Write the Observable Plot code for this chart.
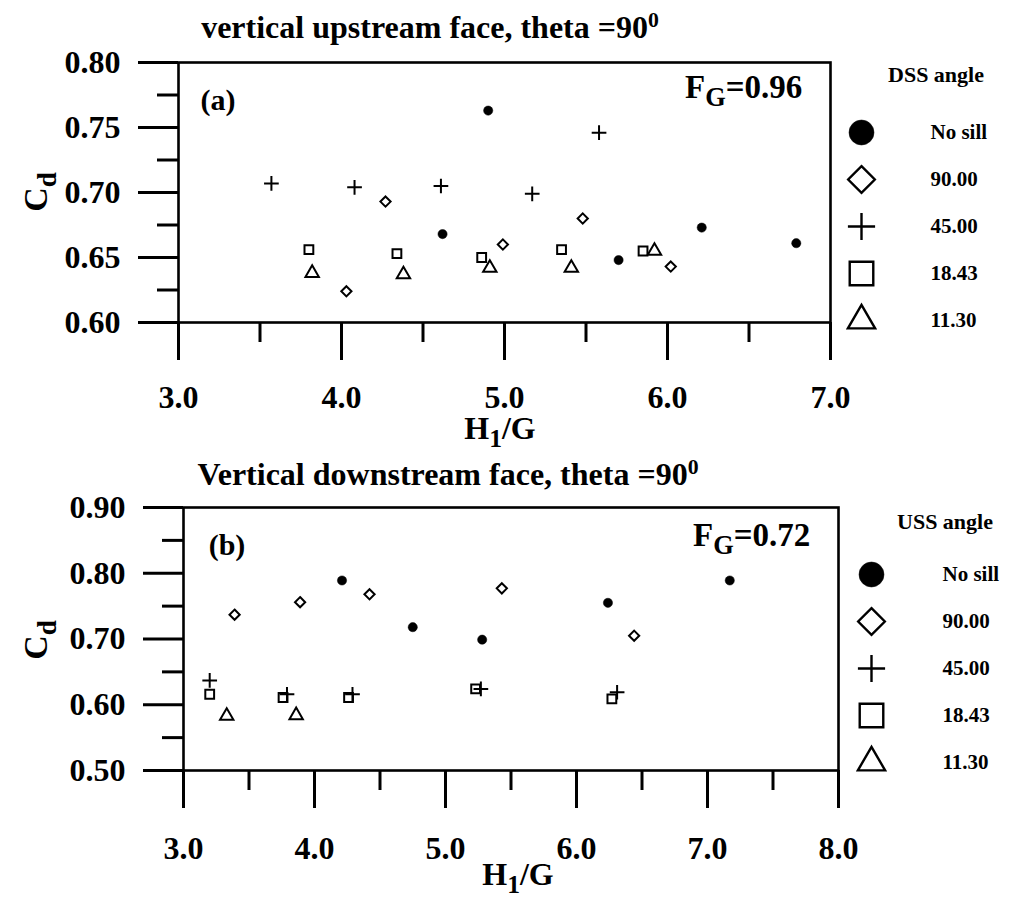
<!DOCTYPE html>
<html><head><meta charset="utf-8">
<script src="https://cdn.jsdelivr.net/npm/d3@7"></script>
<script src="https://cdn.jsdelivr.net/npm/@observablehq/plot@0.6"></script>
<style>
body{margin:0;background:#fff;}
#wrap{position:relative;width:1009px;height:904px;font-family:"Liberation Serif","Times New Roman",serif;font-weight:bold;color:#000;overflow:hidden;background:#fff;}
.lab{position:absolute;white-space:nowrap;line-height:1;transform:translate(-50%,-50%);}
.labl{position:absolute;white-space:nowrap;line-height:1;transform:translate(0,-50%);}
.sb{font-size:0.8em;position:relative;top:0.32em;line-height:0;}
.sp{font-size:0.68em;position:relative;top:-0.5em;line-height:0;}
</style></head><body><div id="wrap"></div>
<script>
// ---- categories / legend ----
const sillLabels = ["No sill", "90.00", "45.00", "18.43", "11.30"];
const sillSymbols = ["circle", "diamond2", "plus", "square2", "triangle2"];

// ---- panel (a): DSS angle, F_G = 0.96 ----
const aNoSillX = [4.62, 4.90, 5.70, 6.21, 6.79];
const aNoSillY = [0.668, 0.763, 0.648, 0.673, 0.661];
const a90X = [4.03, 4.27, 4.99, 5.48, 6.02];
const a90Y = [0.624, 0.693, 0.660, 0.680, 0.643];
const a45X = [3.57, 4.08, 4.61, 5.17, 5.58];
const a45Y = [0.707, 0.704, 0.705, 0.699, 0.746];
const a18X = [3.80, 4.34, 4.86, 5.35, 5.85];
const a18Y = [0.656, 0.653, 0.650, 0.656, 0.655];
const a11X = [3.82, 4.38, 4.91, 5.41, 5.92];
const a11Y = [0.638, 0.637, 0.642, 0.642, 0.655];

// ---- panel (b): USS angle, F_G = 0.72 ----
const bNoSillX = [4.21, 4.75, 5.28, 6.24, 7.17];
const bNoSillY = [0.789, 0.718, 0.699, 0.755, 0.789];
const b90X = [3.39, 3.89, 4.42, 5.43, 6.44];
const b90Y = [0.737, 0.756, 0.768, 0.777, 0.705];
const b45X = [3.20, 3.79, 4.29, 5.27, 6.31];
const b45Y = [0.637, 0.616, 0.616, 0.624, 0.619];
const b18X = [3.20, 3.76, 4.26, 5.23, 6.27];
const b18Y = [0.616, 0.611, 0.611, 0.624, 0.609];
const b11X = [3.33, 3.86];
const b11Y = [0.583, 0.584];

// ---- tick values ----
const aXMajor = [3, 4, 5, 6, 7];
const aXMinor = [3.5, 4.5, 5.5, 6.5];
const aYMajor = [0.60, 0.65, 0.70, 0.75, 0.80];
const aYMinor = [0.625, 0.675, 0.725, 0.775];
const bXMajor = [3, 4, 5, 6, 7, 8];
const bXMinor = [3.5, 4.5, 5.5, 6.5, 7.5];
const bYMajor = [0.50, 0.60, 0.70, 0.80, 0.90];
const bYMinor = [0.55, 0.65, 0.75, 0.85];

// marker sizes (style)
const dotR = {circle: 4.6, diamond2: 4.6, plus: 4.8, square2: 5.6, triangle2: 6.4};
const legR = {circle: 12.5, diamond2: 12, plus: 8.8, square2: 15, triangle2: 13};

const wrap = document.getElementById("wrap");

function toRows(xs, ys) { return xs.map((x, i) => ({x, y: ys[i]})); }

function panel(o) {
  const marks = [Plot.frame({strokeWidth: 2.6})];
  marks.push(Plot.axisY(o.yMajor, {tickSize: 40, tickPadding: 18, tickFormat: d3.format(".2f"), fontSize: 32, fontWeight: "bold", strokeWidth: 3, label: null}));
  marks.push(Plot.axisY(o.yMinor, {tickSize: 21, tickFormat: () => "", strokeWidth: 3, label: null}));
  marks.push(Plot.axisX(o.xMajor, {tickSize: 38, tickPadding: o.xPad, tickFormat: d3.format(".1f"), fontSize: 32, fontWeight: "bold", strokeWidth: 3, label: null}));
  marks.push(Plot.axisX(o.xMinor, {tickSize: 20, tickFormat: () => "", strokeWidth: 3, label: null}));
  o.series.forEach((s, i) => {
    const sym = sillSymbols[i];
    const filled = sym === "circle";
    marks.push(Plot.dot(toRows(s[0], s[1]), {
      x: "x", y: "y", symbol: sym, r: dotR[sym],
      fill: filled ? "black" : "none", stroke: "black", strokeWidth: filled ? 0.5 : 2
    }));
  });
  const svg = Plot.plot({
    width: o.width, height: o.height,
    marginLeft: o.ml, marginRight: o.mr, marginTop: o.mt, marginBottom: o.mb,
    x: {domain: o.xDomain, label: null},
    y: {domain: o.yDomain, label: null},
    style: {fontFamily: "Liberation Serif, Times New Roman, serif", fontWeight: "bold", color: "black", background: "transparent", overflow: "visible"},
    marks
  });
  svg.style.position = "absolute";
  svg.style.left = "0px";
  svg.style.top = o.top + "px";
  wrap.appendChild(svg);
}

function legend(o) {
  const rows = sillLabels.map((label, i) => ({label, symbol: sillSymbols[i]}));
  const marks = rows.map(row => Plot.dot([row], {
    y: "label", frameAnchor: "left", dx: o.symDx, symbol: row.symbol, r: legR[row.symbol],
    fill: row.symbol === "circle" ? "black" : "none", stroke: "black", strokeWidth: row.symbol === "circle" ? 0.5 : 2.4
  }));
  marks.push(Plot.text(rows, {y: "label", text: "label", frameAnchor: "left", dx: o.textDx, textAnchor: "start", fontSize: 21, fontWeight: "bold"}));
  const svg = Plot.plot({
    width: 169, height: 360, margin: 0,
    y: {type: "point", padding: 0, domain: sillLabels, range: o.range, axis: null},
    style: {fontFamily: "Liberation Serif, Times New Roman, serif", fontWeight: "bold", color: "black", background: "transparent", overflow: "visible"},
    marks
  });
  svg.style.position = "absolute";
  svg.style.left = o.left + "px";
  svg.style.top = o.top + "px";
  wrap.appendChild(svg);
}

panel({
  top: 0, width: 860, height: 440, ml: 178, mr: 30, mt: 62, mb: 118, xPad: 25,
  xDomain: [3, 7], yDomain: [0.6, 0.8],
  xMajor: aXMajor, xMinor: aXMinor, yMajor: aYMajor, yMinor: aYMinor,
  series: [[aNoSillX, aNoSillY], [a90X, a90Y], [a45X, a45Y], [a18X, a18Y], [a11X, a11Y]]
});
panel({
  top: 444, width: 860, height: 460, ml: 183, mr: 22, mt: 63, mb: 134, xPad: 28,
  xDomain: [3, 8], yDomain: [0.5, 0.9],
  xMajor: bXMajor, xMinor: bXMinor, yMajor: bYMajor, yMinor: bYMinor,
  series: [[bNoSillX, bNoSillY], [b90X, b90Y], [b45X, b45Y], [b18X, b18Y], [b11X, b11Y]]
});
legend({left: 840, top: 0, range: [132, 320], symDx: 21, textDx: 90});
legend({left: 850, top: 450, range: [122, 313], symDx: 21, textDx: 92});

function label(html, x, y, size, cls) {
  const d = document.createElement("div");
  d.className = cls || "lab";
  d.style.left = x + "px";
  d.style.top = y + "px";
  d.style.fontSize = size + "px";
  d.innerHTML = html;
  wrap.appendChild(d);
  return d;
}
label('vertical upstream face, theta =90<span class="sp">0</span>', 430, 27, 32);
label('Vertical downstream face, theta =90<span class="sp">0</span>', 448, 474, 32);
label('(a)', 218, 100, 30);
label('(b)', 227, 545, 30);
label('F<span class="sb">G</span>=0.96', 685, 87, 33, "labl");
label('F<span class="sb">G</span>=0.72', 693, 535, 33, "labl");
label('H<span class="sb">1</span>/G', 500, 428, 32);
label('H<span class="sb">1</span>/G', 518, 874, 32);
label('DSS angle', 936, 75, 22);
label('USS angle', 945, 522, 22);
const c1 = label('C<span class="sb">d</span>', 36, 192, 34);
c1.style.transform = "translate(-50%,-50%) rotate(-90deg)";
const c2 = label('C<span class="sb">d</span>', 36, 640, 34);
c2.style.transform = "translate(-50%,-50%) rotate(-90deg)";
</script></body></html>
